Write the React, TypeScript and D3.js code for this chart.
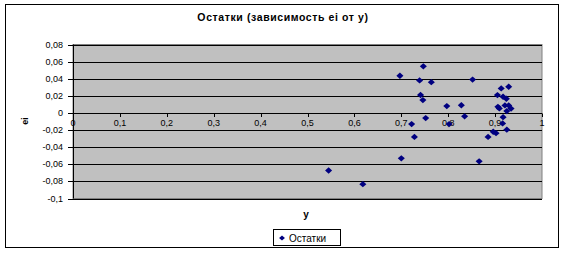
import React from "react";
import * as d3 from "d3";

const yValues = [0.747,0.697,0.739,0.764,0.852,0.741,0.746,0.797,0.828,0.835,0.752,0.722,0.802,0.728,0.700,0.866,0.545,0.618,0.913,0.929,0.905,0.917,0.924,0.906,0.909,0.921,0.929,0.934,0.925,0.917,0.916,0.925,0.896,0.902,0.885];
const residuals = [0.0545,0.0435,0.038,0.036,0.039,0.021,0.015,0.008,0.009,-0.004,-0.006,-0.013,-0.013,-0.028,-0.053,-0.0566,-0.0673,-0.0833,0.0287,0.0306,0.0209,0.0189,0.0166,0.0072,0.0053,0.0088,0.0088,0.0051,0.0022,-0.0049,-0.0122,-0.0195,-0.022,-0.0236,-0.028];
const xTicks = [0,0.1,0.2,0.3,0.4,0.5,0.6,0.7,0.8,0.9,1];
const yTicks = [0.08,0.06,0.04,0.02,0,-0.02,-0.04,-0.06,-0.08,-0.1];
const title = "Остатки (зависимость ei от y)";
const xTitle = "y";
const yTitle = "ei";
const seriesName = "Остатки";

const fmt = (v: number) => (Math.round(v * 100) / 100).toString().replace(".", ",");

export default function App() {
  const W = 567, H = 253;
  const left = 73, right = 542, top = 44.5, bottom = 198.5;
  const x = d3.scaleLinear().domain([0, 1]).range([left, right]);
  const y = d3.scaleLinear().domain([-0.1, 0.08]).range([bottom, top]);
  const font = "'Liberation Sans', Arial, sans-serif";
  const diamond = d3.symbol().type(d3.symbolDiamond).size(18)();
  const y0 = y(0);
  return (
    <svg width={W} height={H} style={{ position: "absolute", left: 0, top: 0 }} fontFamily={font}>
      <rect x={0} y={0} width={W} height={H} fill="#fff" />
      <rect x={5.5} y={4.5} width={553} height={243} fill="#fff" stroke="#000" strokeWidth={1} />
      <text x={283} y={21} textAnchor="middle" fontSize={10.5} fontWeight="bold" letterSpacing={0.6}>{title}</text>
      <rect x={left} y={top} width={right - left} height={bottom - top} fill="#c0c0c0" stroke="#808080" strokeWidth={1} />
      {yTicks.map((t) => (
        <g key={t}>
          <line x1={left} x2={right} y1={Math.round(y(t)) + 0.5} y2={Math.round(y(t)) + 0.5} stroke="#000" strokeWidth={1} />
          <line x1={left - 5} x2={left} y1={Math.round(y(t)) + 0.5} y2={Math.round(y(t)) + 0.5} stroke="#000" />
          <text x={63} y={y(t) + 3} textAnchor="end" fontSize={9}>{fmt(t)}</text>
        </g>
      ))}
      <line x1={left + 0.5} x2={left + 0.5} y1={top} y2={bottom} stroke="#000" />
      {xTicks.map((t) => (
        <g key={t}>
          <line x1={Math.round(x(t)) + 0.5} x2={Math.round(x(t)) + 0.5} y1={Math.round(y0) + 0.5} y2={Math.round(y0) + 4} stroke="#000" />
          <text x={x(t)} y={y0 + 13} textAnchor="middle" fontSize={9}>{fmt(t)}</text>
        </g>
      ))}
      {yValues.map((v, i) => (
        <path key={i} d={diamond} transform={`translate(${x(v)},${y(residuals[i])}) scale(1.55,0.8)`} fill="#000080" />
      ))}
      <text x={306} y={218} textAnchor="middle" fontSize={10} fontWeight="bold">{xTitle}</text>
      <text transform={`translate(28,121) rotate(-90)`} textAnchor="middle" fontSize={9} fontWeight="bold">{yTitle}</text>
      <rect x={273.5} y={229.5} width={67} height={16} fill="#fff" stroke="#000" />
      <path d={diamond} transform={`translate(282,238) scale(1.3,0.65)`} fill="#000080" />
      <text x={289} y={241.5} fontSize={10}>{seriesName}</text>
    </svg>
  );
}
